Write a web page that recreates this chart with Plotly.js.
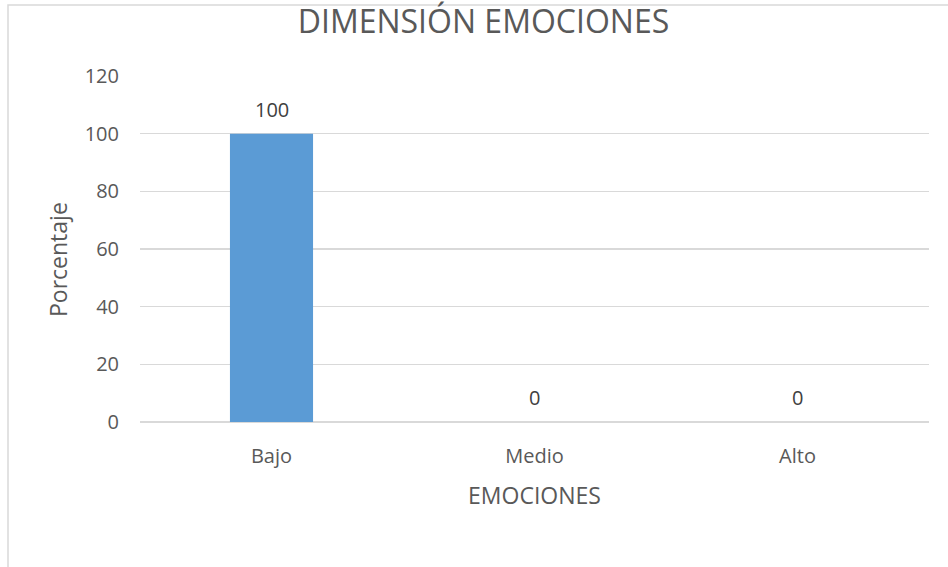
<!DOCTYPE html>
<html><head><meta charset="utf-8">
<script src="https://cdn.plot.ly/plotly-3.0.1.min.js"></script>
<style>html,body{margin:0;padding:0;background:#fff}#chart{width:948px;height:567px}</style>
</head><body><div id="chart"></div>
<script>
const categories = ["Bajo", "Medio", "Alto"];
const values = [100, 0, 0];
const yTicks = [0, 20, 40, 60, 80, 100, 120];

const txtColor = "#595959";
const font = "Open Sans, Noto Sans, sans-serif";

const trace = {
  type: "bar",
  x: categories,
  y: values,
  width: 0.316,
  marker: {color: "#5b9bd5"},
  hoverinfo: "x+y"
};

const annotations = categories.map((c, i) => ({
  x: c, y: values[i], xref: "x", yref: "y",
  text: String(values[i]), showarrow: false,
  yanchor: "bottom", yshift: 9,
  font: {family: font, size: 20, color: "#404040"}
}));
annotations.push({
  xref: "paper", yref: "paper", x: (58 - 140) / 789, y: (422 - 260) / 346,
  xanchor: "center", yanchor: "middle", textangle: -90, showarrow: false,
  text: "Porcentaje", font: {family: font, size: 23, color: txtColor}
});

const layout = {
  width: 948, height: 567,
  margin: {l: 140, r: 19, t: 76, b: 145},
  paper_bgcolor: "#fff", plot_bgcolor: "#fff",
  showlegend: false,
  title: {text: "DIMENSIÓN EMOCIONES", x: 0.51, xanchor: "center", y: 0.962, yanchor: "middle",
          font: {family: font, size: 32, color: txtColor}},
  xaxis: {
    type: "category",
    showgrid: false, zeroline: false, showline: false,
    ticks: "", ticklabelstandoff: 20,
    tickfont: {family: font, size: 20, color: txtColor},
    title: {text: "EMOCIONES", standoff: 19, font: {family: font, size: 23, color: txtColor}}
  },
  yaxis: {
    range: [0, 120], tickvals: yTicks, ticktext: yTicks.map(String),
    showgrid: true, gridcolor: "#d9d9d9", gridwidth: 1.3,
    zeroline: true, zerolinecolor: "#d9d9d9", zerolinewidth: 1.3,
    showline: false, ticks: "", ticklabelstandoff: 20,
    tickfont: {family: font, size: 20, color: txtColor}
  },
  annotations: annotations,
  shapes: [{type: "rect", xref: "paper", yref: "paper",
            x0: (8 - 140) / 789, x1: 2, y0: -1, y1: (422 - 5) / 346,
            line: {color: "#d9d9d9", width: 1.5}, fillcolor: "rgba(0,0,0,0)", layer: "below"}]
};

Plotly.newPlot("chart", [trace], layout, {displayModeBar: false, staticPlot: true});
</script></body></html>
